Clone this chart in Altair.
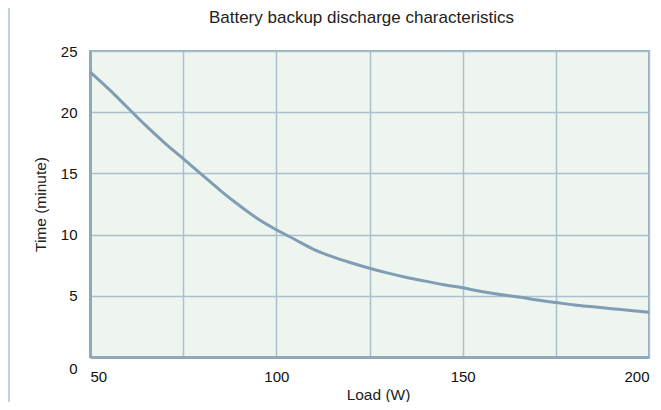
import altair as alt
import pandas as pd

# Values
load_w = [50, 55, 60, 65, 70, 75, 80, 85, 90, 95, 100, 105, 110, 115, 120, 125,
          130, 135, 140, 145, 150, 155, 160, 165, 170, 175, 180, 185, 190, 195, 200]
time_min = [23.3, 21.9, 20.4, 18.9, 17.5, 16.2, 14.9, 13.6, 12.4, 11.3, 10.4, 9.6,
            8.8, 8.2, 7.7, 7.25, 6.85, 6.5, 6.2, 5.9, 5.65, 5.35, 5.1, 4.9, 4.65,
            4.45, 4.25, 4.1, 3.95, 3.8, 3.65]
x_ticks = [50, 75, 100, 125, 150, 175, 200]
y_ticks = [0, 5, 10, 15, 20, 25]
chart_title = "Battery backup discharge characteristics"

df = pd.DataFrame({"load": load_w, "time": time_min})

FONT = "Liberation Sans"
GRID = "#abc0cd"
LINE = "#7f9db4"

x_axis = alt.Axis(
    values=x_ticks,
    labelExpr="datum.value % 50 == 0 ? datum.label : ''",
    labelFlush=True,
    labelFont=FONT, labelFontSize=15, labelColor="#111",
    labelPadding=12, ticks=False,
    domainColor="#8fa9ba", domainWidth=3,
    gridColor=GRID, gridWidth=1.5,
    title="Load (W)", titleFont=FONT, titleFontSize=15.5, titleFontWeight="normal",
    titleColor="#222", titleX=288, titleY=37, titleBaseline="middle", titleAlign="center",
)

y_axis = alt.Axis(
    values=y_ticks,
    labelFont=FONT, labelFontSize=15, labelColor="#111",
    labelPadding=13, ticks=False,
    labelOffset={"condition": {"test": "datum.value == 0", "value": 11}, "value": 0},
    domainColor="#8fa9ba", domainWidth=3,
    gridColor=GRID, gridWidth=1.5,
    title="Time (minute)", titleFont=FONT, titleFontSize=15.5, titleFontWeight="normal",
    titleColor="#222", titleX=-50, titleY=153, titleBaseline="middle", titleAlign="center",
    titleAngle=270,
)

line = alt.Chart(df).mark_line(color=LINE, strokeWidth=3, interpolate="monotone").encode(
    x=alt.X("load:Q", scale=alt.Scale(domain=[50, 200], nice=False, zero=False), axis=x_axis),
    y=alt.Y("time:Q", scale=alt.Scale(domain=[0, 25], nice=False), axis=y_axis),
)

page_rule = alt.Chart(df).mark_rule(color="#c3d2dc", strokeWidth=2, clip=False).encode(
    x=alt.value(-81), y=alt.value(-43), y2=alt.value(351)
)

title_text = alt.Chart(pd.DataFrame({"t": [chart_title]})).mark_text(
    font=FONT, fontSize=17, color="#222", align="center", baseline="middle", clip=False
).encode(x=alt.value(271.5), y=alt.value(-33.5), text="t:N")

chart = alt.layer(page_rule, line, title_text).properties(
    width=559,
    height=306,
    autosize=alt.AutoSizeParams(type="none"),
    padding={"left": 82, "top": 43, "right": 4, "bottom": 45},
).configure_view(fill="#eef5ef", stroke="#96adbd", strokeWidth=2)

chart.save("out.html", embed_options={"renderer": "svg", "actions": False})
